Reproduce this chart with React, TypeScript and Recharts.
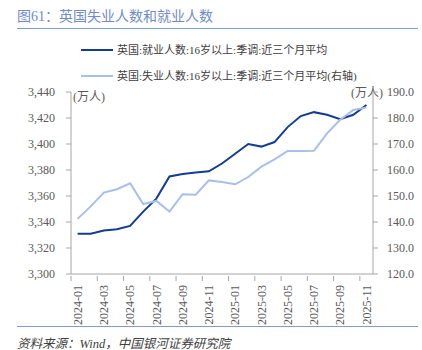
import { LineChart, Line, XAxis, YAxis } from 'recharts';

const months = [
  '2024-01', '2024-02', '2024-03', '2024-04', '2024-05', '2024-06', '2024-07', '2024-08',
  '2024-09', '2024-10', '2024-11', '2024-12', '2025-01', '2025-02', '2025-03', '2025-04',
  '2025-05', '2025-06', '2025-07', '2025-08', '2025-09', '2025-10', '2025-11',
];
// 就业人数 (左轴, 万人)
const employed = [
  3331, 3331, 3333.5, 3334.5, 3337, 3348, 3358, 3375, 3377, 3378, 3379, 3385,
  3392.5, 3400, 3398, 3401.5, 3413, 3421.5, 3424.5, 3422.5, 3419, 3422.5, 3430,
];
// 失业人数 (右轴, 万人)
const unemployed = [
  141.2, 146, 151.3, 152.6, 154.9, 146.9, 148.1, 144, 150.7, 150.5, 156, 155.4,
  154.5, 157.3, 161.3, 164.1, 167.3, 167.3, 167.4, 174.1, 179.3, 183.1, 184,
];
const leftTicks = [3300, 3320, 3340, 3360, 3380, 3400, 3420, 3440];
const rightTicks = [120, 130, 140, 150, 160, 170, 180, 190];

const seriesNames = ['英国:就业人数:16岁以上:季调:近三个月平均', '英国:失业人数:16岁以上:季调:近三个月平均(右轴)'];
const DARK = '#133d92';
const LIGHT = '#a8bfe9';
const AXIS = '#a6a6a6';
const SERIF = '"Liberation Serif", "Noto Sans CJK SC", serif';

const data = months.map((m, i) => ({ month: m, employed: employed[i], unemployed: unemployed[i] }));

const PLOT_W = 302;
const bandW = PLOT_W / months.length;

function MonthTick(props: any) {
  const { x, y, payload } = props;
  const edge = x - bandW / 2;
  return (
    <g>
      <line x1={edge} y1={y} x2={edge} y2={y + 5} stroke={AXIS} />
      <text
        transform={`translate(${x},${y + 9}) rotate(-90)`}
        textAnchor="end"
        dy="0.35em"
        fontSize={12}
        fontFamily={SERIF}
        fill="#595959"
      >
        {payload.value}
      </text>
    </g>
  );
}

// legend drawn outside recharts so its size is under our control
function LegendRows() {
  const colors = [DARK, LIGHT];
  return (
    <>
      {seriesNames.map((n, i) => (
        <div
          key={n}
          style={{
            position: 'absolute', left: 81, top: 40 + i * 26, height: 20,
            display: 'flex', alignItems: 'center', whiteSpace: 'nowrap',
          }}
        >
          <span style={{ display: 'inline-block', width: 32, height: 2, background: colors[i], marginRight: 4 }} />
          <span style={{ fontFamily: SERIF, fontSize: 11, color: '#404040', lineHeight: '20px' }}>{n}</span>
        </div>
      ))}
    </>
  );
}

export default function App() {
  return (
    <div style={{ position: 'relative', width: 422, height: 350, background: '#fff', fontFamily: SERIF }}>
      <style>{'body{margin:0}'}</style>
      <div style={{ position: 'absolute', left: 17, top: 5, fontSize: 14, color: '#6f8cc6', whiteSpace: 'nowrap' }}>
        图61：英国失业人数和就业人数
      </div>
      <div style={{ position: 'absolute', left: 17, top: 28, width: 401, height: 1, background: '#7f9bd0' }} />

      <LineChart
        width={422}
        height={350}
        data={data}
        margin={{ top: 92, right: 0, bottom: 20, left: 11 }}
        style={{ position: 'absolute', left: 0, top: 0 }}
      >
        <XAxis
          dataKey="month"
          scale="band"
          interval={1}
          height={56}
          tickSize={0}
          tickLine={false}
          stroke={AXIS}
          tick={<MonthTick />}
        />
        <YAxis
          yAxisId="left"
          domain={[3300, 3440]}
          ticks={leftTicks}
          width={60}
          stroke={AXIS}
          tickSize={5}
          tickMargin={11}
          tick={{ fontSize: 12, fontFamily: SERIF, fill: '#595959' }}
          tickFormatter={(v: number) => v.toLocaleString('en-US')}
          interval={0}
        />
        <YAxis
          yAxisId="right"
          orientation="right"
          domain={[120, 190]}
          ticks={rightTicks}
          width={49}
          stroke={AXIS}
          tickSize={5}
          tickMargin={9}
          tick={{ fontSize: 12, fontFamily: SERIF, fill: '#595959', textAnchor: 'start' }}
          tickFormatter={(v: number) => v.toFixed(1)}
          interval={0}
        />
        <Line
          yAxisId="left"
          dataKey="employed"
          name={seriesNames[0]}
          stroke={DARK}
          strokeWidth={2}
          dot={false}
          isAnimationActive={false}
        />
        <Line
          yAxisId="right"
          dataKey="unemployed"
          name={seriesNames[1]}
          stroke={LIGHT}
          strokeWidth={2}
          dot={false}
          isAnimationActive={false}
        />
        <text x={73} y={97} dy="0.35em" fontSize={12} fontFamily={SERIF} fill="#595959">(万人)</text>
        <text x={383} y={93} dy="0.35em" textAnchor="end" fontSize={12} fontFamily={SERIF} fill="#595959">(万人)</text>
      </LineChart>

      <LegendRows />

      <div style={{ position: 'absolute', left: 17, top: 326, width: 401, height: 1, background: '#7f9bd0' }} />
      <div style={{ position: 'absolute', left: 17, top: 333, fontSize: 12.5, fontStyle: 'italic', color: '#404040', whiteSpace: 'nowrap' }}>
        资料来源：Wind，中国银河证券研究院
      </div>
    </div>
  );
}
